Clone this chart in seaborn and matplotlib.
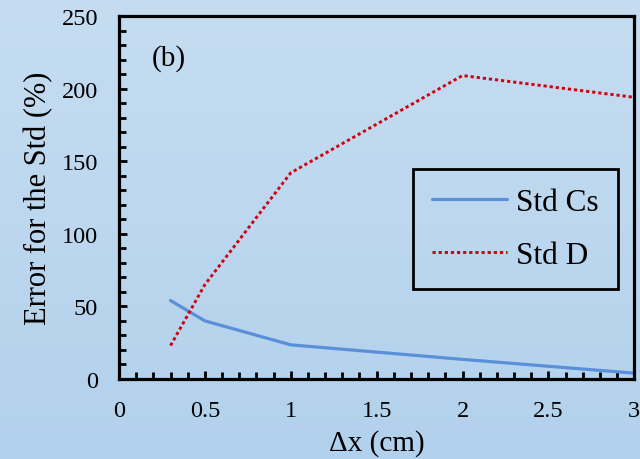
import numpy as np
import pandas as pd
import matplotlib
matplotlib.use("Agg")
import matplotlib.pyplot as plt
from matplotlib.ticker import MultipleLocator
import seaborn as sns

# ---- data ----
dx_cs = [0.3, 0.5, 1.0, 2.0, 3.0]
std_cs = [54, 40, 23.5, 13.5, 4]
dx_d = [0.3, 0.5, 1.0, 2.0, 3.0]
std_d = [23, 65, 142, 209, 194]
series_names = ["Std Cs", "Std D"]
x_ticks = [0, 0.5, 1, 1.5, 2, 2.5, 3]
y_ticks = [0, 50, 100, 150, 200, 250]

sns.set_theme(style="white")
plt.rcParams["font.family"] = ["Liberation Serif", "DejaVu Serif"]
plt.rcParams["text.color"] = "black"
plt.rcParams["axes.labelcolor"] = "black"
plt.rcParams["xtick.color"] = "black"
plt.rcParams["ytick.color"] = "black"

fig = plt.figure(figsize=(6.4, 4.6), dpi=100)

# gradient background
bg = fig.add_axes([0, 0, 1, 1], zorder=-10)
top = np.array([198, 221, 241]) / 255.0
bot = np.array([178, 209, 236]) / 255.0
t = np.linspace(0, 1, 200)[:, None]
grad = top[None, None, :] * (1 - t[..., None]) + bot[None, None, :] * t[..., None]
grad = np.repeat(grad, 2, axis=1)
bg.imshow(grad, aspect="auto", extent=[0, 1, 0, 1], origin="upper")
bg.set_axis_off()

ax = fig.add_axes([0.186, 0.174, 0.805, 0.789])
ax.set_facecolor("none")

df_cs = pd.DataFrame({"dx": dx_cs, "val": std_cs})
df_d = pd.DataFrame({"dx": dx_d, "val": std_d})

sns.lineplot(data=df_cs, x="dx", y="val", ax=ax, color="#5A8FD9", lw=2.3,
             label=series_names[0])
sns.lineplot(data=df_d, x="dx", y="val", ax=ax, color="#D0000F", lw=2.1,
             label=series_names[1])
ax.lines[1].set_dashes((1.1, 1.0))
ax.lines[1].set_dash_capstyle("butt")

ax.set_xlim(0, 3)
ax.set_ylim(0, 250)
ax.set_xticks(x_ticks)
ax.set_xticklabels([f"{v:g}" for v in x_ticks])
ax.set_yticks(y_ticks)
ax.set_yticklabels([str(v) for v in y_ticks])
ax.xaxis.set_minor_locator(MultipleLocator(0.1))
ax.yaxis.set_minor_locator(MultipleLocator(10))

ax.tick_params(axis="both", which="both", direction="in", colors="black",
               labelcolor="black", bottom=True, left=True, top=False, right=False)
ax.tick_params(axis="both", which="major", length=6, width=2, labelsize=17.5, pad=15)
ax.tick_params(axis="both", which="minor", length=5, width=2)

for s in ax.spines.values():
    s.set_color("black")
    s.set_linewidth(2.3)
    s.set_visible(True)

ax.set_xlabel("Δx (cm)", fontsize=21, color="black")
ax.set_ylabel("Error for the Std (%)", fontsize=22, color="black")
ax.xaxis.set_label_coords(0.5, -0.137)
ax.yaxis.set_label_coords(-0.127, 0.5)

ax.text(0.064, 0.887, "(b)", transform=ax.transAxes, fontsize=21,
        va="center", ha="left", color="black")

leg = ax.legend(loc="upper left", bbox_to_anchor=(0.571, 0.579), fontsize=22.5,
                frameon=True, fancybox=False, framealpha=1, handlelength=2.4,
                handletextpad=0.3, borderpad=0.6, labelspacing=0.78,
                borderaxespad=0)
leg.get_frame().set_edgecolor("black")
leg.get_frame().set_linewidth(2)
leg.get_frame().set_facecolor("none")
for txt in leg.get_texts():
    txt.set_color("black")

fig.savefig("out.png", dpi=100)
